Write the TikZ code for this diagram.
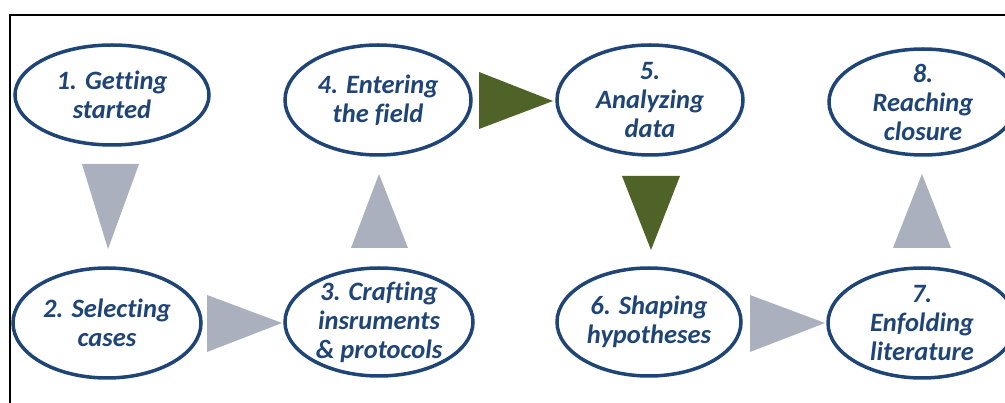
\documentclass[tikz,border=0pt]{standalone}
\usepackage{fontspec}
\setmainfont[Ligatures=CommonOff]{Carlito}
\usetikzlibrary{shapes.geometric}
\definecolor{stepblue}{HTML}{1F4577}
\definecolor{flowgray}{HTML}{ABB0BE}
\definecolor{flowgreen}{HTML}{4F6228}
\tikzset{
  stage/.style={ellipse, draw=stepblue, line width=3.5pt, inner sep=0pt},
  stagetext/.style={text=stepblue, align=center, inner sep=0pt,
    font=\fontsize{26.5}{29}\selectfont\bfseries\itshape},
  grayarrow/.style={fill=flowgray},
  greenarrow/.style={fill=flowgreen},
}
\begin{document}
\begin{tikzpicture}[x=1pt, y=-1pt]
\useasboundingbox (0,0) rectangle (1005,403);
\clip (0,0) rectangle (1005,403);
\fill[white] (0,0) rectangle (1005,403);

% outer frame (open towards right and bottom)
\draw[line width=1.3pt] (10,403) -- (10,15) -- (1005,15);

% the eight stages
\node[stage, minimum width=194pt, minimum height=100pt] (n1) at (112,95) {};
\node[stage, minimum width=188pt, minimum height=110pt] (n2) at (107,323) {};
\node[stage, minimum width=188pt, minimum height=108pt] (n3) at (379,322) {};
\node[stage, minimum width=186pt, minimum height=110pt] (n4) at (378,100) {};
\node[stage, minimum width=186pt, minimum height=110pt] (n5) at (650,100) {};
\node[stage, minimum width=184pt, minimum height=108pt] (n6) at (649,322) {};
\node[stage, minimum width=188pt, minimum height=110pt] (n7) at (922,323) {};
\node[stage, minimum width=188pt, minimum height=106pt] (n8) at (923,102) {};

\node[stagetext] (t1) at (n1.center) {1. Getting\\started};
\node[stagetext] (t2) at (n2.center) {2. Selecting\\cases};
\node[stagetext] (t3) at (n3.center) {3. Crafting\\insruments\\\& protocols};
\node[stagetext] (t4) at (n4.center) {4. Entering\\the field};
\node[stagetext] (t5) at (n5.center) {5.\\Analyzing\\data};
\node[stagetext] (t6) at (n6.center) {6. Shaping\\hypotheses};
\node[stagetext] (t7) at (n7.center) {7.\\Enfolding\\literature};
\node[stagetext] (t8) at (n8.center) {8.\\Reaching\\closure};

% triangular arrows between stages
\fill[grayarrow]  (82,164) -- (139,164) -- (108,249) -- cycle;   % 1 -> 2
\fill[grayarrow]  (207,295) -- (207,352) -- (282,323) -- cycle;  % 2 -> 3
\fill[grayarrow]  (351,248) -- (408,248) -- (379,174) -- cycle;  % 3 -> 4
\fill[greenarrow] (479,72) -- (479,129) -- (553,101) -- cycle;   % 4 -> 5
\fill[greenarrow] (622,176) -- (680,176) -- (651,250) -- cycle;  % 5 -> 6
\fill[grayarrow]  (750,295) -- (750,352) -- (825,323) -- cycle;  % 6 -> 7
\fill[grayarrow]  (893,248) -- (951,248) -- (922,174) -- cycle;  % 7 -> 8
\end{tikzpicture}
\end{document}
